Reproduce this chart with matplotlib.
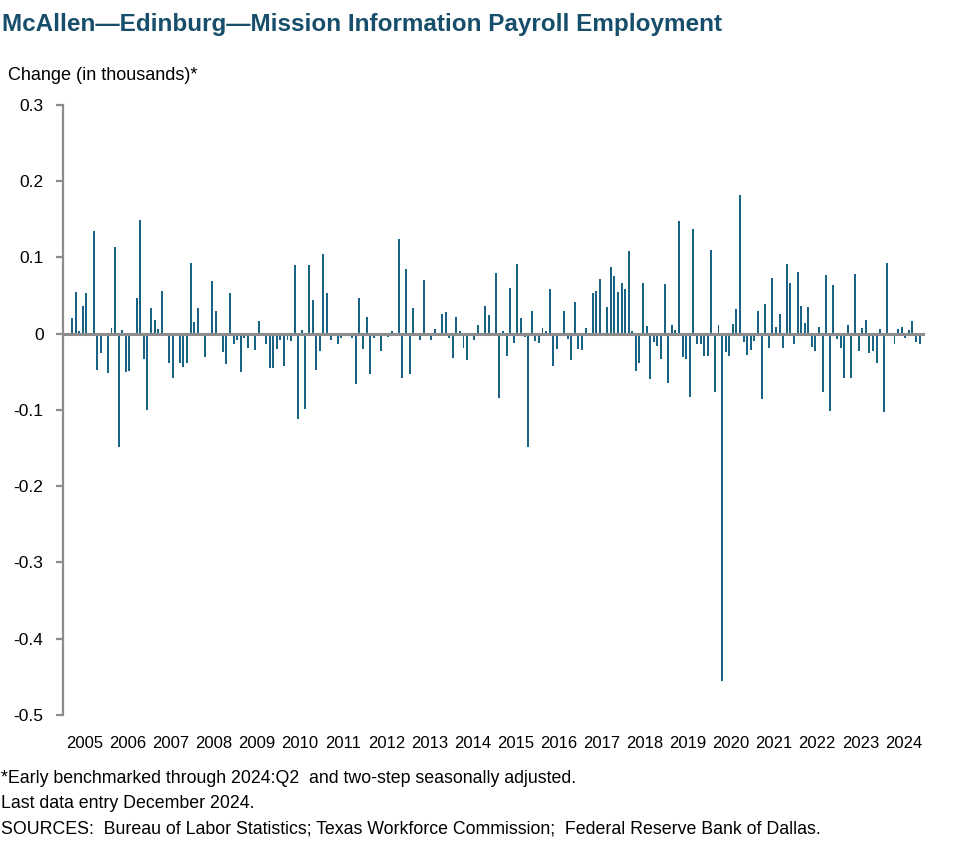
import matplotlib.pyplot as plt
import matplotlib.transforms as mtransforms
import numpy as np

# monthly change in employment (thousands), Jan 2005 - Dec 2024
years = list(range(2005, 2025))
change = [
    0, 0, 0.020, 0.055, 0.004, 0.037, 0.053, 0, 0.135, -0.048, -0.025, 0,
    -0.052, 0.007, 0.114, -0.148, 0.005, -0.050, -0.049, 0, 0.047, 0.149, -0.033, -0.100,
    0.034, 0.018, 0.006, 0.056, 0, -0.038, -0.058, 0, -0.038, -0.044, -0.039, 0.093,
    0.015, 0.034, 0, -0.030, -0.003, 0.069, 0.030, 0, -0.024, -0.040, 0.053, -0.013,
    -0.008, -0.050, -0.006, -0.019, -0.003, -0.021, 0.017, 0, -0.014, -0.045, -0.045, -0.020,
    -0.008, -0.042, -0.008, -0.010, 0.090, -0.112, 0.005, -0.099, 0.090, 0.044, -0.048, -0.023,
    0.105, 0.053, -0.008, 0, -0.014, -0.006, 0, 0, -0.006, -0.066, 0.047, -0.020,
    0.022, -0.053, -0.005, 0, -0.023, 0, -0.004, 0.003, -0.003, 0.124, -0.058, 0.085,
    -0.053, 0.034, 0, -0.008, 0.071, 0, -0.008, 0.006, 0, 0.026, 0.028, -0.006,
    -0.032, 0.022, 0.003, -0.019, -0.034, 0, -0.008, 0.012, 0, 0.037, 0.025, -0.003,
    0.080, -0.084, 0.003, -0.029, 0.060, -0.012, 0.091, 0.021, -0.004, -0.148, 0.030, -0.010,
    -0.012, 0.007, 0.003, 0.059, -0.042, -0.020, 0, 0.030, -0.007, -0.034, 0.041, -0.020,
    -0.021, 0.007, 0, 0.053, 0.056, 0.072, 0, 0.035, 0.087, 0.076, 0.055, 0.066,
    0.059, 0.108, 0.003, -0.049, -0.039, 0.066, 0.010, -0.059, -0.011, -0.016, -0.033, 0.065,
    -0.065, 0.011, 0.005, 0.148, -0.031, -0.033, -0.083, 0.137, -0.014, -0.014, -0.029, -0.029,
    0.110, -0.077, 0.011, -0.455, -0.024, -0.029, 0.013, 0.032, 0.182, -0.011, -0.028, -0.021,
    -0.010, 0.030, -0.085, 0.039, -0.019, 0.073, 0.009, 0.026, -0.019, 0.091, 0.066, -0.013,
    0.081, 0.036, 0.014, 0.035, -0.017, -0.023, 0.009, -0.077, 0.077, -0.102, 0.064, -0.007,
    -0.019, -0.058, 0.011, -0.058, 0.078, -0.023, 0.007, 0.018, -0.025, -0.023, -0.038, 0.006,
    -0.103, 0.093, 0, -0.014, 0.006, 0.009, -0.006, 0.005, 0.017, -0.011, -0.014, 0,
]
yticks = [0.3, 0.2, 0.1, 0, -0.1, -0.2, -0.3, -0.4, -0.5]
ytick_labels = ["0.3", "0.2", "0.1", "0", "-0.1", "-0.2", "-0.3", "-0.4", "-0.5"]

plt.rcParams['font.family'] = ['Liberation Sans', 'DejaVu Sans']

bar_color = "#1a6385"
title_color = "#174e6b"
grey = "#8c8c8c"

fig = plt.figure(figsize=(9.77, 8.64), dpi=100)
ax = fig.add_axes([0.0645, 0.1725, 0.8823, 0.706])

x = np.arange(len(change))
ax.bar(x, change, width=0.55, color=bar_color, zorder=2)
ax.axhline(0, color=grey, lw=2.2, zorder=3)

ax.set_xlim(-0.5, len(change) - 0.5)
ax.set_ylim(-0.5, 0.3)
ax.set_yticks(yticks)
ax.set_yticklabels(ytick_labels, fontsize=12.5)
ax.set_xticks([])

for s in ["top", "right", "bottom"]:
    ax.spines[s].set_visible(False)
ax.spines["left"].set_color(grey)
ax.spines["left"].set_linewidth(1.6)
ax.tick_params(axis="y", length=5, width=1.6, color=grey, pad=9)

# year labels under the plot
trans = mtransforms.blended_transform_factory(ax.transData, ax.transAxes)
for i, yr in enumerate(years):
    ax.text(12 * i + 5.5, -0.047, str(yr), transform=trans,
            ha="center", va="center", fontsize=12)

fig.text(0.002, 0.972, "McAllen\u2014Edinburg\u2014Mission Information Payroll Employment",
         fontsize=17.5, fontweight="bold", color=title_color, va="center")
fig.text(0.008, 0.913, "Change (in thousands)*", fontsize=13, va="center")

fig.text(0.001, 0.099, "*Early benchmarked through 2024:Q2  and two-step seasonally adjusted.",
         fontsize=12.8, va="center")
fig.text(0.001, 0.070, "Last data entry December 2024.", fontsize=12.8, va="center")
fig.text(0.001, 0.040, "SOURCES:  Bureau of Labor Statistics; Texas Workforce Commission;  Federal Reserve Bank of Dallas.",
         fontsize=12.8, va="center")

fig.savefig("out.png", dpi=100)
